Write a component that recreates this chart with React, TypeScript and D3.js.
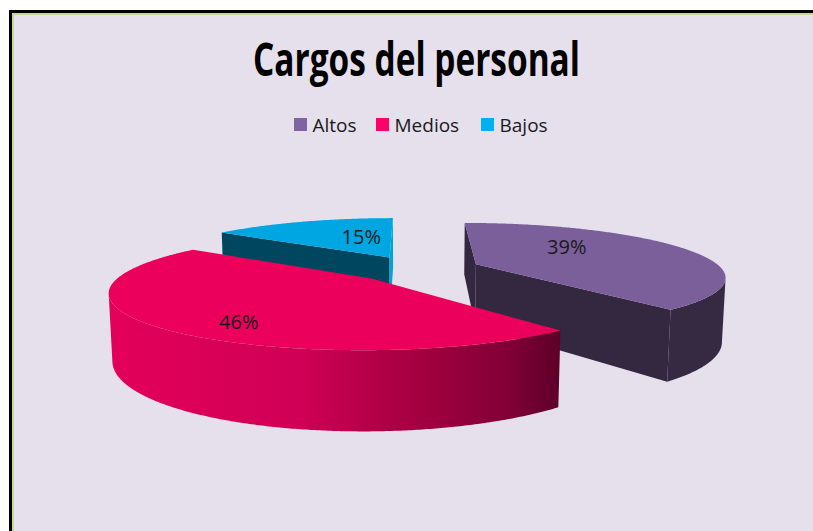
import React from 'react';
import * as d3 from 'd3';

// ---- data ----
const categories: string[] = ['Altos', 'Medios', 'Bajos'];
const values: number[] = [39, 46, 15];
const valueLabels: string[] = ['39%', '46%', '15%'];
const chartTitle = 'Cargos del personal';

// ---- styles / layout ----
const WIDTH = 813;
const HEIGHT = 531;
const TOP_COLORS = ['#7a5f9b', '#eb005c', '#00a6e1'];
const SIDE_COLORS = ['#352a42', 'url(#medGrad)', '#0090c0'];
const START_FACE_COLORS = ['#33283f', '#800035', '#00465f'];
const END_FACE_COLORS = ['#33283f', '#800035', '#05a2da'];
const LEGEND_COLORS = ['#8064a2', '#ff0066', '#00b0f0'];
const LEGEND_X = [294, 376, 481];
// label position relative to slice apex, in radius units (x, depth)
const LABEL_OFFSETS: [number, number][] = [
  [0.426, 0.374],
  [-0.4275, -0.661],
  [-0.14, 0.4746],
];

// projection parameters
const EX = 410;
const EY = 263;
const FOCAL = 1159;
const ALPHA = Math.asin(0.2054);
const CA = Math.cos(ALPHA);
const SA = Math.sin(ALPHA);
const RADIUS = 240;
const DEPTH = 63;
const CENTER_X = 7.2;
const CENTER_Z = -27.3;
const EXPLODE = 62;
const EYE = [0, FOCAL * SA, -FOCAL * CA];

function project(X: number, Y: number, Z: number): [number, number] {
  const d = Z * CA - Y * SA;
  const yc = Y * CA + Z * SA;
  const s = FOCAL / (FOCAL + d);
  return [EX + X * s, EY - yc * s];
}

const line = d3.line<[number, number]>().x((p) => p[0]).y((p) => p[1]);

function closed(pts: [number, number][]) {
  return (line(pts) || '') + 'Z';
}

export default function App() {
  const pie = d3.pie<number>().sort(null).value((d) => d).startAngle(0).endAngle(Math.PI * 2);
  const arcs = pie(values);

  const slices = arcs.map((a, i) => {
    const mid = (a.startAngle + a.endAngle) / 2;
    const ax = CENTER_X + EXPLODE * Math.sin(mid);
    const az = CENTER_Z + EXPLODE * Math.cos(mid);
    const rim = (t: number, y: number) =>
      project(ax + RADIUS * Math.sin(t), y, az + RADIUS * Math.cos(t));
    const step = Math.PI / 360;
    const n = Math.max(2, Math.ceil((a.endAngle - a.startAngle) / step));
    const angles = d3.range(n + 1).map((k) => a.startAngle + ((a.endAngle - a.startAngle) * k) / n);

    // top face
    const topPts: [number, number][] = [project(ax, 0, az), ...angles.map((t) => rim(t, 0))];
    const top = closed(topPts);

    // radial faces
    const faces: { d: string; fill: string }[] = [];
    const faceVis = (nx: number, nz: number) => nx * (EYE[0] - ax) + nz * (EYE[2] - az) > 0;
    const facePath = (t: number) =>
      closed([project(ax, 0, az), rim(t, 0), rim(t, -DEPTH), project(ax, -DEPTH, az)]);
    if (faceVis(-Math.cos(a.startAngle), Math.sin(a.startAngle)))
      faces.push({ d: facePath(a.startAngle), fill: START_FACE_COLORS[i] });
    if (faceVis(Math.cos(a.endAngle), -Math.sin(a.endAngle)))
      faces.push({ d: facePath(a.endAngle), fill: END_FACE_COLORS[i] });

    // outer side, visible runs
    const sides: string[] = [];
    let run: number[] = [];
    const flush = () => {
      if (run.length > 1) {
        const tp = run.map((t) => rim(t, 0));
        const bp = run.slice().reverse().map((t) => rim(t, -DEPTH));
        sides.push(closed([...tp, ...bp]));
      }
      run = [];
    };
    angles.forEach((t) => {
      const px = ax + RADIUS * Math.sin(t);
      const pz = az + RADIUS * Math.cos(t);
      const vis = Math.sin(t) * (EYE[0] - px) + Math.cos(t) * (EYE[2] - pz) > 0;
      if (vis) run.push(t);
      else flush();
    });
    flush();

    const lo = LABEL_OFFSETS[i];
    const lp = project(ax + lo[0] * RADIUS, 0, az + lo[1] * RADIUS);

    return { i, az, top, faces, sides, lp };
  });

  const order = slices.slice().sort((p, q) => q.az - p.az);

  return (
    <svg
      width={WIDTH}
      height={HEIGHT}
      style={{ position: 'absolute', left: 0, top: 0, display: 'block' }}
      fontFamily="'Open Sans', sans-serif"
    >
      <defs>
        <linearGradient id="medGrad" gradientUnits="userSpaceOnUse" x1={105} y1={0} x2={562} y2={0}>
          <stop offset="0" stopColor="#e4005a" />
          <stop offset="0.43" stopColor="#cf0055" />
          <stop offset="0.69" stopColor="#a3003f" />
          <stop offset="0.88" stopColor="#820036" />
          <stop offset="1" stopColor="#5c0027" />
        </linearGradient>
      </defs>
      <rect x={0} y={0} width={WIDTH} height={HEIGHT} fill="#ffffff" />
      <rect x={9} y={10} width={WIDTH} height={HEIGHT} fill="#000000" />
      <rect x={12} y={13} width={WIDTH} height={HEIGHT} fill="#c3d69b" />
      <rect x={14} y={15} width={WIDTH} height={HEIGHT} fill="#e5e0ec" />

      <text
        x={416.5}
        y={76}
        textAnchor="middle"
        fontSize={46}
        fontWeight="bold"
        fill="#000000"
        textLength={327}
        lengthAdjust="spacingAndGlyphs"
      >
        {chartTitle}
      </text>

      {categories.map((c, i) => (
        <g key={c}>
          <rect x={LEGEND_X[i]} y={118} width={13} height={13} fill={LEGEND_COLORS[i]} />
          <text x={LEGEND_X[i] + 18.5} y={131.5} fontSize={19} fill="#1a1a1a">
            {c}
          </text>
        </g>
      ))}

      {order.map((s) => (
        <g key={s.i}>
          {s.faces.map((f, k) => (
            <path key={'f' + k} d={f.d} fill={f.fill} />
          ))}
          {s.sides.map((d, k) => (
            <path key={'s' + k} d={d} fill={SIDE_COLORS[s.i]} />
          ))}
          <path d={s.top} fill={TOP_COLORS[s.i]} />
        </g>
      ))}

      {slices.map((s) => (
        <text
          key={'l' + s.i}
          x={s.lp[0]}
          y={s.lp[1] + 7.5}
          textAnchor="middle"
          fontSize={20}
          fill="#1a1a1a"
        >
          {valueLabels[s.i]}
        </text>
      ))}
    </svg>
  );
}
